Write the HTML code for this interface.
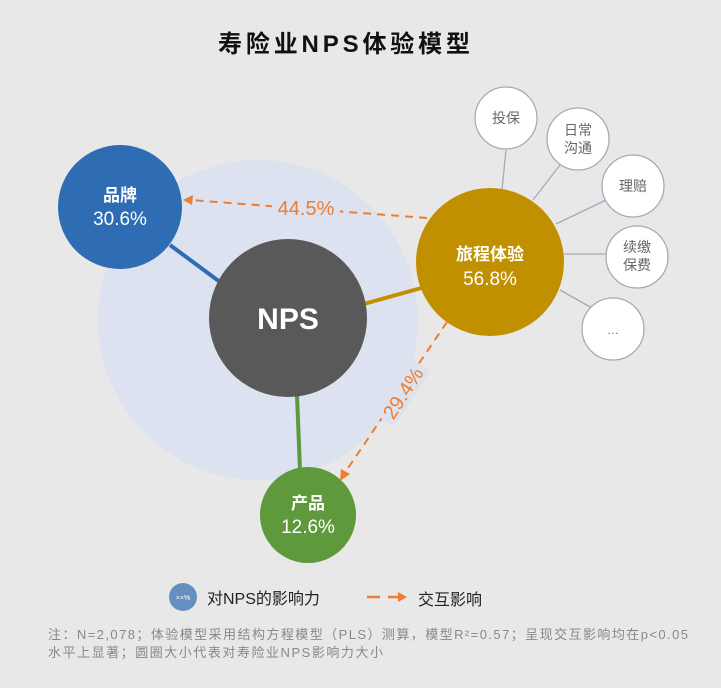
<!DOCTYPE html>
<html><head><meta charset="utf-8"><style>
body{margin:0;background:#e8e8e8;}
svg text{font-family:"Liberation Sans","Noto Sans CJK SC",sans-serif;}
</style></head><body>
<svg width="721" height="683" viewBox="0 0 721 683" xmlns="http://www.w3.org/2000/svg">
<rect width="721" height="683" fill="#e8e8e8"/>
<text x="218" y="52" textLength="252" font-size="24" font-weight="bold" fill="#111">寿险业NPS体验模型</text>
<circle cx="258" cy="320" r="160" fill="#dce2ef"/>
<g stroke="#a3abb8" stroke-width="1.3">
<line x1="502" y1="190" x2="506" y2="150"/>
<line x1="533" y1="200" x2="560" y2="165"/>
<line x1="556" y1="224" x2="606" y2="200"/>
<line x1="564" y1="254" x2="606" y2="254"/>
<line x1="560" y1="290" x2="592" y2="308"/>
</g>
<g fill="#fff" stroke="#a3abb8" stroke-width="1.3">
<circle cx="506" cy="118" r="31"/>
<circle cx="578" cy="139" r="31"/>
<circle cx="633" cy="186" r="31"/>
<circle cx="637" cy="257" r="31"/>
<circle cx="613" cy="329" r="31"/>
</g>
<g font-size="14" fill="#666" text-anchor="middle">
<text x="506" y="123">投保</text>
<text x="578" y="135">日常</text><text x="578" y="153">沟通</text>
<text x="633" y="191">理赔</text>
<text x="637" y="252">续缴</text><text x="637" y="270">保费</text>
<text x="613" y="334" font-size="12">…</text>
</g>
<line x1="170" y1="245" x2="220" y2="282" stroke="#2e6db4" stroke-width="4"/>
<line x1="360" y1="305" x2="425" y2="287" stroke="#c19000" stroke-width="4"/>
<line x1="297" y1="395" x2="300" y2="470" stroke="#5e9a3c" stroke-width="4"/>
<circle cx="120" cy="207" r="62" fill="#2e6db4"/>
<circle cx="288" cy="318" r="79" fill="#595959"/>
<circle cx="490" cy="262" r="74" fill="#c19000"/>
<circle cx="308" cy="515" r="48" fill="#5e9a3c"/>
<g fill="#fff" text-anchor="middle">
<text x="120" y="201" font-size="17" font-weight="bold">品牌</text>
<text x="120" y="225" font-size="19">30.6%</text>
<text x="288" y="329" font-size="30" font-weight="bold">NPS</text>
<text x="490" y="260" font-size="17" font-weight="bold">旅程体验</text>
<text x="490" y="285" font-size="19">56.8%</text>
<text x="308" y="509" font-size="17" font-weight="bold">产品</text>
<text x="308" y="533" font-size="19">12.6%</text>
</g>
<g stroke="#ed7d31" stroke-width="2" stroke-dasharray="8,6" fill="none">
<line x1="427" y1="218" x2="190" y2="200"/>
<line x1="447" y1="322" x2="344" y2="474"/>
</g>
<polygon points="183,200 193,195 192,205" fill="#ed7d31"/>
<polygon points="340,481 341,469 350,474" fill="#ed7d31"/>
<rect x="272" y="195" width="68" height="24" fill="#dce2ef"/>
<text x="306" y="215" text-anchor="middle" font-size="20" fill="#ed7d31">44.5%</text>
<g transform="translate(403,393) rotate(-57)">
<rect x="-33" y="-13" width="66" height="24" fill="#dce2ef"/>
<text x="0" y="7" text-anchor="middle" font-size="20" fill="#ed7d31">29.4%</text>
</g>
<circle cx="183" cy="597" r="14" fill="#658fbf"/>
<text x="183" y="600" text-anchor="middle" font-size="7" fill="#fff">××%</text>
<text x="207" y="604" font-size="16" fill="#222">对NPS的影响力</text>
<line x1="367" y1="597" x2="380" y2="597" stroke="#ed7d31" stroke-width="2.5"/>
<line x1="388" y1="597" x2="400" y2="597" stroke="#ed7d31" stroke-width="2.5"/>
<polygon points="407,597 398,592 398,602" fill="#ed7d31"/>
<text x="418" y="605" font-size="16" fill="#222">交互影响</text>
<text x="48" y="639" font-size="13" fill="#888" textLength="640">注：N=2,078；体验模型采用结构方程模型（PLS）测算，模型R²=0.57；呈现交互影响均在p&lt;0.05</text>
<text x="48" y="657" font-size="13" fill="#888" textLength="335">水平上显著；圆圈大小代表对寿险业NPS影响力大小</text>
</svg>
</body></html>
